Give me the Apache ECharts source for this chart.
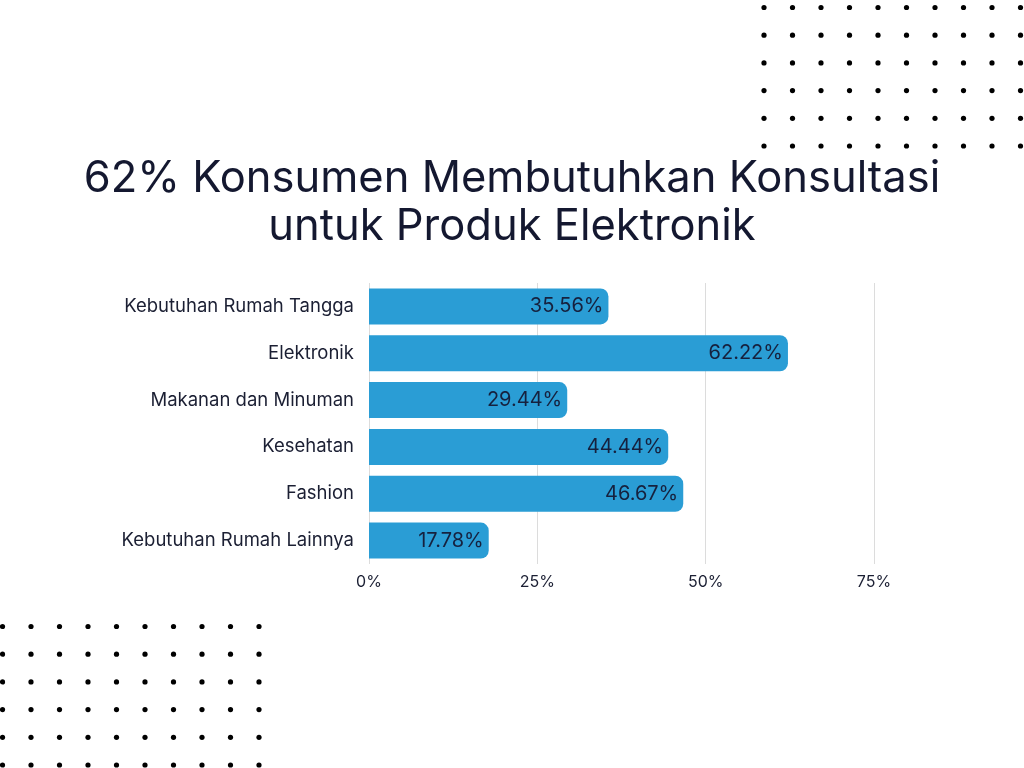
<!DOCTYPE html>
<html>
<head>
<meta charset="utf-8">
<script src="https://cdn.jsdelivr.net/npm/echarts@6/dist/echarts.min.js"></script>
<style>
  html, body { margin: 0; padding: 0; background: #fff; }
  #chart { width: 1024px; height: 768px; }
</style>
</head>
<body>
<div id="chart"></div>
<script>
// data
var categories = ['Kebutuhan Rumah Tangga', 'Elektronik', 'Makanan dan Minuman', 'Kesehatan', 'Fashion', 'Kebutuhan Rumah Lainnya'];
var values = [35.56, 62.22, 29.44, 44.44, 46.67, 17.78];
var titleLines = ['62% Konsumen Membutuhkan Konsultasi', 'untuk Produk Elektronik'];

var FONT = 'Inter, "Noto Sans", sans-serif';

// decorative dot grids
function dotGrid(x0, y0, cols, rows, dx, dy) {
    var out = [];
    for (var r = 0; r < rows; r++) {
        for (var c = 0; c < cols; c++) {
            out.push({
                type: 'circle',
                shape: { cx: x0 + c * dx, cy: y0 + r * dy, r: 2.6 },
                style: { fill: '#000' },
                silent: true
            });
        }
    }
    return out;
}

var graphics = [].concat(
    dotGrid(764, 7.5, 10, 6, 28.5, 27.7),
    dotGrid(2.5, 626.5, 10, 6, 28.5, 27.7)
);

var myChart = echarts.init(document.getElementById('chart'));

var option = {
    backgroundColor: '#fff',
    animation: false,
    title: {
        text: titleLines.join('\n'),
        left: 'center',
        top: 150,
        textStyle: {
            fontFamily: FONT,
            fontSize: 43.5,
            fontWeight: 'normal',
            color: '#141830',
            lineHeight: 48
        }
    },
    graphic: graphics,
    grid: {
        left: 369,
        right: 150,
        top: 283,
        bottom: 204
    },
    xAxis: {
        type: 'value',
        min: 0,
        max: 75,
        interval: 25,
        axisLine: { show: false },
        axisTick: { show: false },
        splitLine: { lineStyle: { color: '#dcdcdc', width: 1 } },
        axisLabel: {
            formatter: '{value}%',
            fontFamily: FONT,
            fontSize: 16,
            color: '#1b1f33',
            margin: 10
        }
    },
    yAxis: {
        type: 'category',
        data: categories,
        inverse: true,
        axisLine: { show: false },
        axisTick: { show: false },
        axisLabel: {
            fontFamily: FONT,
            fontSize: 18.5,
            color: '#1b1f33',
            margin: 15
        }
    },
    series: [{
        type: 'bar',
        data: values,
        barWidth: 36,
        itemStyle: {
            color: '#2a9dd5',
            borderRadius: [0, 8, 8, 0]
        },
        label: {
            show: true,
            position: 'insideRight',
            distance: 5,
            formatter: function (p) { return p.value.toFixed(2) + '%'; },
            fontFamily: FONT,
            fontSize: 20,
            color: '#16213e'
        }
    }]
};

myChart.setOption(option);
</script>
</body>
</html>
